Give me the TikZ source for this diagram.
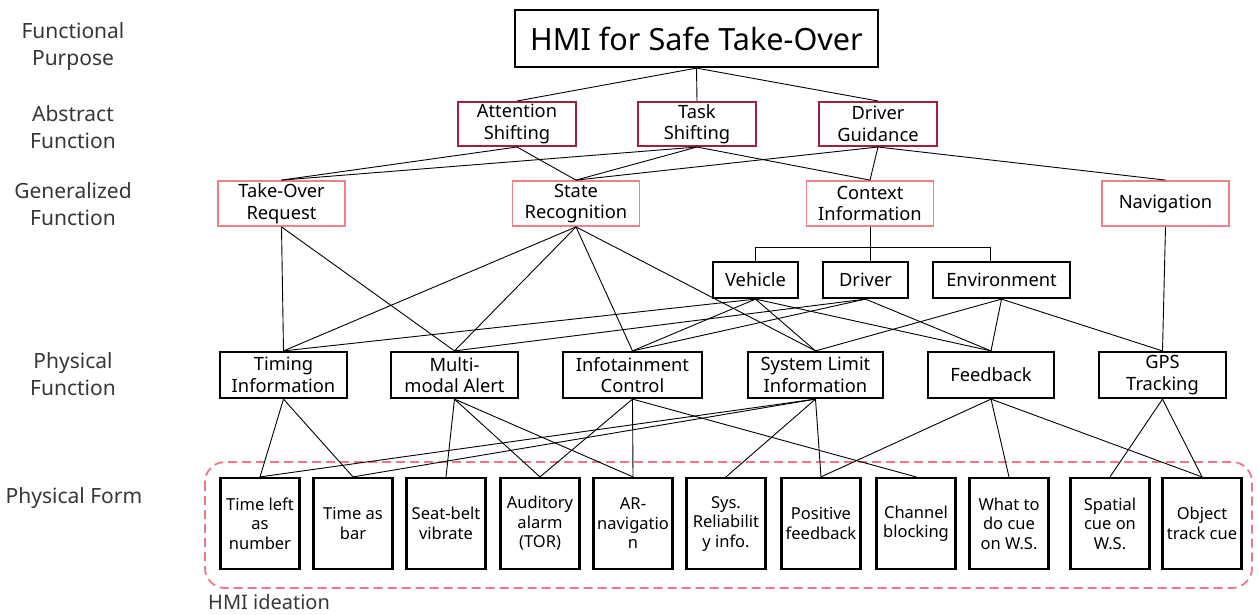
\documentclass[tikz,border=0pt]{standalone}
\usepackage{fontspec}
\setmainfont{Noto Sans}
\definecolor{abscol}{RGB}{160,32,62}
\definecolor{gencol}{RGB}{238,128,140}
\definecolor{dashcol}{RGB}{236,118,138}
\definecolor{lblcol}{RGB}{55,55,55}
\begin{document}
\begin{tikzpicture}[x=1pt,y=-1pt,
  conn/.style={draw=black, line width=0.9pt},
  box/.style={draw=black, line width=2pt, inner sep=0pt, align=center, fill=white,
    font=\fontsize{18.3}{21.5}\selectfont},
  titlebox/.style={box, line width=2.2pt, minimum width=363pt, minimum height=57pt,
    font=\fontsize{30.6}{34}\selectfont},
  absbox/.style={box, draw=abscol, line width=2pt, minimum width=118pt, minimum height=44pt},
  genbox/.style={box, draw=gencol, line width=1.8pt, minimum width=127pt, minimum height=45pt},
  ctxbox/.style={box, line width=2.2pt, minimum height=36pt},
  physbox/.style={box, line width=2.2pt, minimum height=46pt},
  formbox/.style={box, line width=2.2pt, minimum width=79pt, minimum height=91pt,
    font=\fontsize{16.5}{19.5}\selectfont},
  lbl/.style={align=center, text=lblcol, inner sep=0pt, font=\fontsize{21}{27}\selectfont}
]
\useasboundingbox (0,0) rectangle (1259,614);

% left level labels
\node[lbl] (l1) at (73,46.5) {Functional\\Purpose};
\node[lbl] (l2) at (73,127) {Abstract\\Function};
\node[lbl] (l3) at (73,204.5) {Generalized\\Function};
\node[lbl] (l4) at (73,374.5) {Physical\\Function};
\node[lbl] (l5) at (74,498) {Physical Form};

% dashed ideation frame
\draw[dashcol, line width=1.8pt, dash pattern=on 9pt off 5pt, rounded corners=20pt]
  (205,462) rectangle (1252,588);
\node[lbl, anchor=base west, font=\fontsize{20}{24}\selectfont] (hmi) at (208,609) {HMI ideation};

% functional purpose
\node[titlebox] (top) at (696.5,38.5) {HMI for Safe Take-Over};

% abstract function
\node[absbox] (att) at (517,124) {Attention\\Shifting};
\node[absbox] (task) at (697,124) {Task\\Shifting};
\node[absbox] (dg) at (878,124) {Driver\\Guidance};

% generalized function
\node[genbox] (tor) at (281.5,203.5) {Take-Over\\Request};
\node[genbox] (sr) at (576,203.5) {State\\Recognition};
\node[genbox] (ctx) at (870,203.5) {Context\\Information};
\node[genbox] (nav) at (1165.5,203.5) {Navigation};

% context children
\node[ctxbox, minimum width=85pt] (veh) at (755.5,280) {Vehicle};
\node[ctxbox, minimum width=85pt] (drv) at (865.5,280) {Driver};
\node[ctxbox, minimum width=137pt] (env) at (1001.5,280) {Environment};

% physical function
\node[physbox, minimum width=127pt] (tim) at (283.5,375) {Timing\\Information};
\node[physbox, minimum width=127pt] (mma) at (454.5,375) {Multi-\\modal Alert};
\node[physbox, minimum width=139pt] (inf) at (632.5,375) {Infotainment\\Control};
\node[physbox, minimum width=135pt] (sli) at (815.5,375) {System Limit\\Information};
\node[physbox, minimum width=126pt] (fb) at (991,375) {Feedback};
\node[physbox, minimum width=127pt] (gps) at (1162.5,375) {GPS\\Tracking};

\draw[conn] (top.south) -- (att.north);
\draw[conn] (top.south) -- (task.north);
\draw[conn] (top.south) -- (dg.north);

\draw[conn] (att.south) -- (tor.north);
\draw[conn] (att.south) -- (sr.north);
\draw[conn] (task.south) -- (tor.north);
\draw[conn] (task.south) -- (sr.north);
\draw[conn] (task.south) -- (ctx.north);
\draw[conn] (dg.south) -- (sr.north);
\draw[conn] (dg.south) -- (ctx.north);
\draw[conn] (dg.south) -- (nav.north);

\draw[conn] (tor.south) -- (tim.north);
\draw[conn] (tor.south) -- (mma.north);
\draw[conn] (sr.south) -- (tim.north);
\draw[conn] (sr.south) -- (mma.north);
\draw[conn] (sr.south) -- (inf.north);
\draw[conn] (sr.south) -- (sli.north);

\draw[conn] (ctx.south) -- (ctx.south |- drv.north);
\draw[conn] (veh.north) -- ++(0,-13) -| ([xshift=-11pt]env.north);
\draw[conn] (nav.south) -- (gps.north);

\draw[conn] (veh.south) -- (tim.north);
\draw[conn] (veh.south) -- (inf.north);
\draw[conn] (veh.south) -- (sli.north);
\draw[conn] (veh.south) -- (fb.north);
\draw[conn] (drv.south) -- (mma.north);
\draw[conn] (drv.south) -- (inf.north);
\draw[conn] (drv.south) -- (fb.north);
\draw[conn] (env.south) -- (sli.north);
\draw[conn] (env.south) -- (fb.north);
\draw[conn] (env.south) -- (gps.north);

% physical form
\node[formbox] (b1) at (260,523.5) {Time left\\as\\number};
\node[formbox] (b2) at (353,523.5) {Time as\\bar};
\node[formbox] (b3) at (446,523.5) {Seat-belt\\vibrate};
\node[formbox] (b4) at (540,523.5) {Auditory\\alarm\\(TOR)};
\node[formbox] (b5) at (633,523.5) {AR-\\navigatio\\n};
\node[formbox] (b6) at (726,523.5) {Sys.\\Reliabilit\\y info.};
\node[formbox] (b7) at (821,523.5) {Positive\\feedback};
\node[formbox] (b8) at (916,523.5) {Channel\\blocking};
\node[formbox] (b9) at (1009,523.5) {What to\\do cue\\on W.S.};
\node[formbox] (b10) at (1110,523.5) {Spatial\\cue on\\W.S.};
\node[formbox] (b11) at (1202,523.5) {Object\\track cue};

\draw[conn] (tim.south) -- (b1.north);
\draw[conn] (tim.south) -- (b2.north);
\draw[conn] (mma.south) -- (b3.north);
\draw[conn] (mma.south) -- (b4.north);
\draw[conn] (mma.south) -- (b5.north);
\draw[conn] (inf.south) -- (b4.north);
\draw[conn] (inf.south) -- (b5.north);
\draw[conn] (inf.south) -- (b8.north);
\draw[conn] (sli.south) -- (b1.north);
\draw[conn] (sli.south) -- (b2.north);
\draw[conn] (sli.south) -- (b6.north);
\draw[conn] (sli.south) -- (b7.north);
\draw[conn] (fb.south) -- (b7.north);
\draw[conn] (fb.south) -- (b9.north);
\draw[conn] (fb.south) -- (b11.north);
\draw[conn] (gps.south) -- (b10.north);
\draw[conn] (gps.south) -- (b11.north);
\end{tikzpicture}
\end{document}
